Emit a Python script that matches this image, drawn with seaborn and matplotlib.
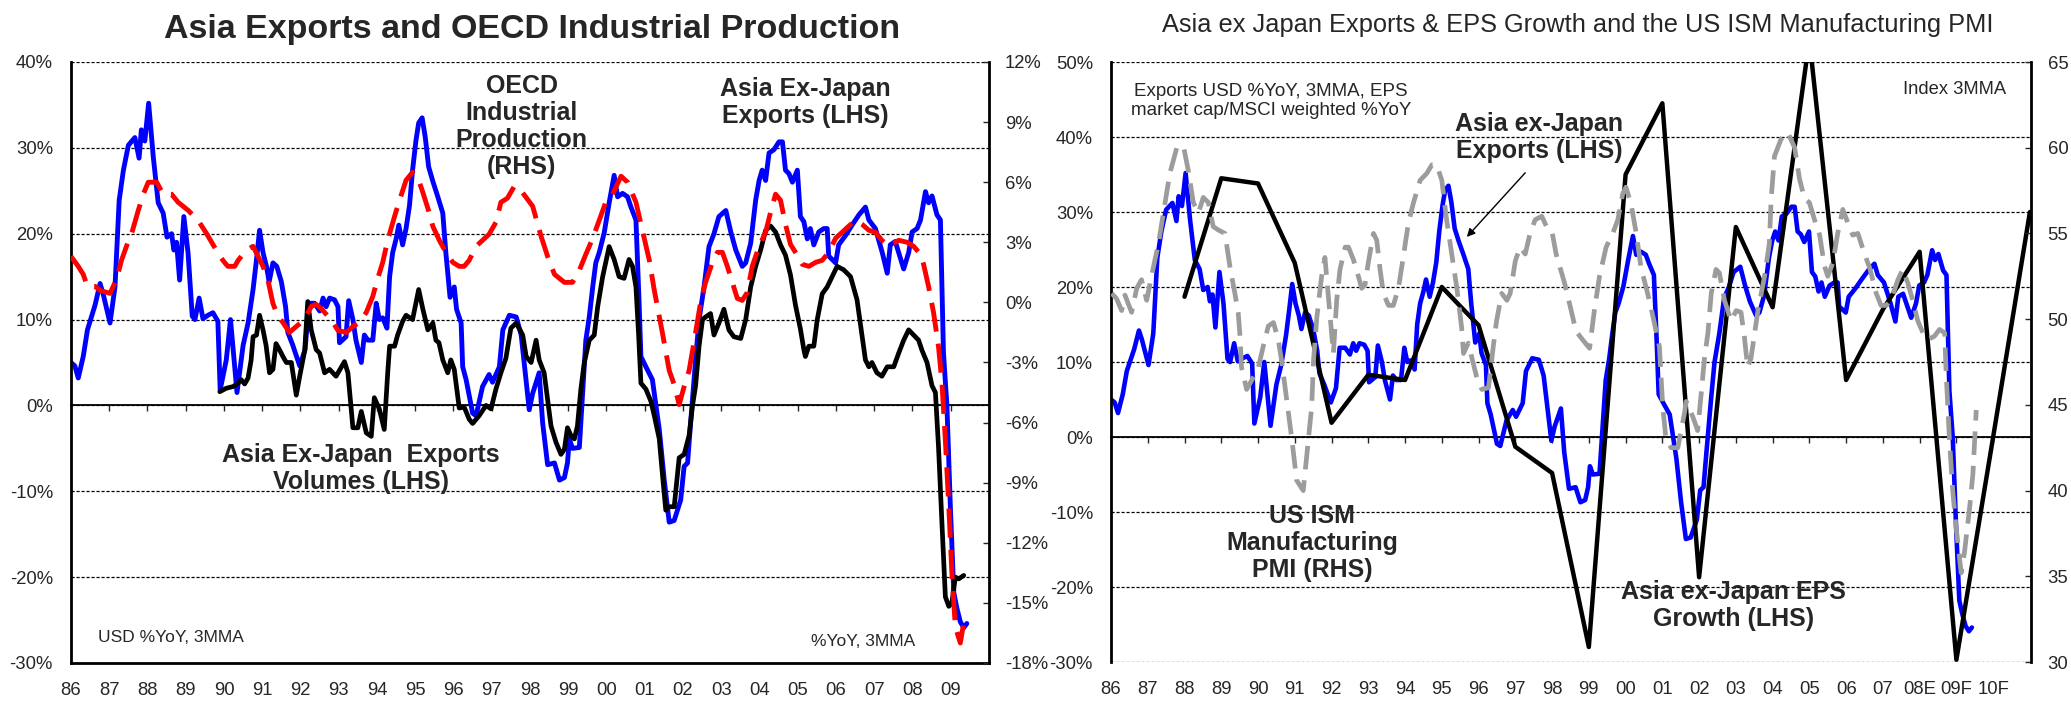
import matplotlib
matplotlib.use("Agg")
import matplotlib.pyplot as plt
import matplotlib.ticker as mticker
import seaborn as sns

# --- data (decimal years, monthly-ish samples) ---

# Asia ex-Japan exports, USD %YoY 3MMA (used on both panels, LHS)
exp_yr = [1986.00, 1986.10, 1986.19, 1986.32, 1986.43, 1986.63, 1986.76, 1986.84, 1987.02, 1987.15,
          1987.26, 1987.37, 1987.50, 1987.67, 1987.78, 1987.84, 1987.93, 1988.03, 1988.15, 1988.28,
          1988.41, 1988.51, 1988.63, 1988.69, 1988.76, 1988.84, 1988.95, 1989.06, 1989.17, 1989.24,
          1989.35, 1989.45, 1989.58, 1989.71, 1989.84, 1989.90, 1990.06, 1990.17, 1990.34, 1990.50,
          1990.63, 1990.76, 1990.85, 1990.93, 1991.02, 1991.11, 1991.18, 1991.28, 1991.38, 1991.50,
          1991.61, 1991.67, 1991.80, 1991.98, 1992.12, 1992.22, 1992.37, 1992.50, 1992.59, 1992.67,
          1992.76, 1992.89, 1992.98, 1993.02, 1993.19, 1993.26, 1993.37, 1993.45, 1993.59, 1993.67,
          1993.76, 1993.89, 1993.98, 1994.06, 1994.15, 1994.26, 1994.33, 1994.41, 1994.50, 1994.57,
          1994.67, 1994.76, 1994.85, 1994.93, 1995.02, 1995.09, 1995.18, 1995.26, 1995.35, 1995.46,
          1995.59, 1995.72, 1995.80, 1995.91, 1996.02, 1996.08, 1996.20, 1996.24, 1996.33, 1996.50,
          1996.59, 1996.76, 1996.93, 1997.02, 1997.20, 1997.29, 1997.46, 1997.64, 1997.77, 1997.98,
          1998.07, 1998.24, 1998.33, 1998.46, 1998.64, 1998.77, 1998.90, 1998.98, 1999.03, 1999.11,
          1999.29, 1999.46, 1999.55, 1999.64, 1999.72, 1999.81, 1999.94, 2000.07, 2000.20, 2000.29,
          2000.42, 2000.55, 2000.64, 2000.77, 2000.85, 2000.90, 2001.03, 2001.20, 2001.38, 2001.51,
          2001.64, 2001.77, 2001.94, 2002.03, 2002.12, 2002.20, 2002.33, 2002.42, 2002.55, 2002.68,
          2002.81, 2002.94, 2003.12, 2003.25, 2003.38, 2003.55, 2003.64, 2003.77, 2003.90, 2003.99,
          2004.07, 2004.16, 2004.25, 2004.38, 2004.51, 2004.60, 2004.68, 2004.77, 2004.86, 2004.99,
          2005.07, 2005.16, 2005.25, 2005.33, 2005.42, 2005.55, 2005.68, 2005.77, 2005.81, 2005.99,
          2006.07, 2006.25, 2006.42, 2006.60, 2006.77, 2006.86, 2007.03, 2007.21, 2007.34, 2007.42,
          2007.55, 2007.64, 2007.77, 2007.90, 2007.99, 2008.12, 2008.21, 2008.34, 2008.42, 2008.51,
          2008.64, 2008.73, 2008.81, 2008.90, 2008.99, 2009.08, 2009.16, 2009.25, 2009.34, 2009.42]
exp_val = [5.0, 4.6, 3.2, 5.7, 8.8, 11.7, 14.2, 13.0, 9.6, 13.8,
           23.9, 27.4, 30.3, 31.2, 28.8, 32.1, 30.8, 35.2, 29.0, 23.6,
           22.4, 19.6, 20.0, 18.1, 19.0, 14.6, 22.0, 17.8, 10.4, 10.0,
           12.5, 10.1, 10.5, 10.8, 9.8, 1.8, 5.3, 10.0, 1.5, 7.0,
           9.6, 13.5, 17.0, 20.4, 17.8, 16.2, 14.4, 16.6, 16.2, 14.4,
           11.5, 8.5, 7.0, 4.6, 6.5, 11.9, 11.9, 11.0, 12.5, 11.5,
           12.5, 12.3, 11.5, 7.3, 8.0, 12.2, 10.0, 7.6, 5.0, 8.2,
           7.6, 7.6, 11.9, 10.0, 10.2, 9.0, 15.0, 17.8, 19.4, 21.0,
           18.7, 20.6, 23.3, 27.4, 30.9, 32.9, 33.5, 31.3, 27.8, 26.1,
           24.3, 22.4, 17.8, 12.6, 13.8, 11.2, 9.6, 4.5, 3.0, -0.9,
           -1.2, 2.2, 3.6, 2.7, 4.5, 8.8, 10.5, 10.3, 8.2, -0.5,
           1.4, 3.8, -2.0, -6.9, -6.7, -8.7, -8.4, -6.7, -3.9, -5.0,
           -4.9, 7.6, 10.3, 13.8, 16.6, 17.8, 20.1, 23.6, 26.8, 24.3,
           24.7, 24.3, 23.1, 21.6, 12.3, 5.7, 4.5, 3.0, -2.8, -8.7,
           -13.6, -13.4, -11.0, -7.1, -6.7, -2.0, 5.3, 10.0, 13.8, 18.5,
           20.0, 22.0, 22.7, 20.2, 18.1, 16.2, 16.6, 18.9, 23.9, 26.2,
           27.4, 26.2, 29.4, 29.8, 30.7, 30.7, 27.4, 27.0, 26.0, 27.4,
           22.0, 21.4, 19.4, 20.6, 18.7, 20.2, 20.6, 20.6, 17.4, 16.6,
           18.7, 19.8, 21.0, 22.2, 23.1, 21.6, 20.6, 17.8, 15.4, 18.7,
           19.1, 17.8, 15.9, 17.8, 20.2, 20.6, 21.6, 24.9, 23.6, 24.4,
           22.2, 21.6, 6.1, 0.0, -11.8, -21.8, -23.6, -25.2, -25.9, -25.4]

# Asia ex-Japan export volumes %YoY (left panel, LHS)
vol_yr = [1989.89, 1990.06, 1990.24, 1990.37, 1990.45, 1990.54, 1990.63, 1990.71, 1990.76, 1990.85,
          1990.93, 1991.02, 1991.10, 1991.19, 1991.28, 1991.36, 1991.45, 1991.54, 1991.63, 1991.76,
          1991.89, 1991.98, 1992.11, 1992.19, 1992.28, 1992.41, 1992.50, 1992.63, 1992.76, 1992.93,
          1993.15, 1993.24, 1993.37, 1993.50, 1993.59, 1993.72, 1993.85, 1993.93, 1994.06, 1994.19,
          1994.28, 1994.33, 1994.46, 1994.54, 1994.67, 1994.76, 1994.93, 1995.09, 1995.20, 1995.33,
          1995.46, 1995.54, 1995.62, 1995.72, 1995.85, 1995.93, 1996.02, 1996.15, 1996.28, 1996.41,
          1996.50, 1996.67, 1996.85, 1996.98, 1997.11, 1997.24, 1997.37, 1997.50, 1997.64, 1997.81,
          1997.90, 1998.03, 1998.16, 1998.24, 1998.37, 1998.46, 1998.55, 1998.68, 1998.81, 1998.90,
          1998.98, 1999.07, 1999.16, 1999.24, 1999.33, 1999.42, 1999.55, 1999.68, 1999.77, 1999.90,
          2000.07, 2000.20, 2000.33, 2000.46, 2000.59, 2000.68, 2000.77, 2000.84, 2000.90, 2001.03,
          2001.16, 2001.25, 2001.38, 2001.46, 2001.55, 2001.64, 2001.77, 2001.90, 2002.03, 2002.16,
          2002.25, 2002.33, 2002.42, 2002.51, 2002.59, 2002.72, 2002.81, 2002.94, 2003.07, 2003.20,
          2003.33, 2003.51, 2003.64, 2003.77, 2003.90, 2004.03, 2004.16, 2004.29, 2004.42, 2004.55,
          2004.68, 2004.81, 2004.94, 2005.07, 2005.16, 2005.20, 2005.29, 2005.42, 2005.51, 2005.64,
          2005.77, 2005.90, 2006.03, 2006.20, 2006.38, 2006.55, 2006.68, 2006.77, 2006.86, 2006.94,
          2007.07, 2007.20, 2007.34, 2007.51, 2007.64, 2007.77, 2007.90, 2008.03, 2008.16, 2008.25,
          2008.38, 2008.51, 2008.60, 2008.68, 2008.77, 2008.86, 2008.95, 2009.03, 2009.12, 2009.21,
          2009.34]
vol_val = [1.6, 2.0, 2.2, 2.6, 3.0, 2.5, 3.2, 5.3, 8.0, 8.2,
           10.5, 8.8, 7.0, 3.8, 4.2, 7.2, 6.5, 5.7, 5.0, 5.0,
           1.2, 3.4, 6.4, 12.1, 8.8, 6.5, 6.1, 3.8, 4.2, 3.4,
           5.1, 3.8, -2.6, -2.6, -0.7, -3.2, -3.6, 0.9, -0.4, -2.8,
           3.8, 6.9, 6.9, 8.2, 9.8, 10.5, 10.0, 13.5, 11.2, 8.8,
           9.6, 7.6, 7.3, 5.3, 3.8, 5.3, 4.2, -0.3, -0.2, -1.6,
           -2.1, -1.2, 0.0, -0.4, 1.9, 3.8, 5.5, 9.0, 9.6, 8.2,
           5.7, 5.0, 7.6, 5.3, 3.8, 0.7, -2.4, -4.3, -5.7, -5.1,
           -2.6, -3.5, -3.9, -2.4, 1.9, 5.0, 7.6, 8.2, 11.5, 15.0,
           18.5, 17.0, 15.0, 14.8, 17.0, 16.2, 13.8, 8.2, 2.6, 1.9,
           0.5, -1.2, -3.9, -7.9, -12.2, -11.8, -11.8, -6.1, -5.7, -3.5,
           0.0, 2.3, 6.9, 10.0, 10.3, 10.7, 8.2, 9.6, 11.2, 8.8,
           8.0, 7.8, 10.0, 13.8, 16.2, 18.1, 20.4, 20.9, 20.2, 18.7,
           17.5, 15.2, 11.7, 8.9, 6.5, 5.7, 6.9, 6.9, 10.0, 13.0,
           13.8, 15.0, 16.2, 15.8, 15.0, 12.3, 8.2, 5.3, 4.5, 5.0,
           3.8, 3.4, 4.5, 4.5, 6.1, 7.6, 8.8, 8.2, 7.6, 6.4,
           5.0, 2.3, 1.5, -4.8, -13.7, -22.3, -23.4, -23.0, -20.0, -20.2,
           -19.8]

# OECD industrial production %YoY 3MMA (left panel, RHS)
oecd_yr = [1986.00, 1986.19, 1986.32, 1986.43, 1986.63, 1986.76, 1987.02, 1987.20, 1987.32, 1987.45,
           1987.61, 1987.76, 1987.89, 1988.02, 1988.24, 1988.41, 1988.63, 1988.80, 1989.06, 1989.32,
           1989.54, 1989.80, 1989.97, 1990.10, 1990.28, 1990.37, 1990.58, 1990.76, 1990.89, 1991.02,
           1991.15, 1991.28, 1991.41, 1991.54, 1991.71, 1991.89, 1992.02, 1992.15, 1992.28, 1992.41,
           1992.54, 1992.72, 1992.85, 1992.98, 1993.20, 1993.37, 1993.54, 1993.72, 1993.89, 1994.02,
           1994.15, 1994.28, 1994.46, 1994.59, 1994.76, 1994.93, 1995.07, 1995.18, 1995.33, 1995.46,
           1995.63, 1995.80, 1995.98, 1996.15, 1996.28, 1996.41, 1996.59, 1996.76, 1996.93, 1997.11,
           1997.24, 1997.41, 1997.59, 1997.72, 1998.07, 1998.29, 1998.46, 1998.64, 1998.90, 1999.11,
           1999.29, 1999.46, 1999.64, 1999.81, 1999.98, 2000.16, 2000.38, 2000.55, 2000.77, 2000.94,
           2001.12, 2001.25, 2001.46, 2001.64, 2001.77, 2001.90, 2002.03, 2002.16, 2002.25, 2002.33,
           2002.46, 2002.59, 2002.77, 2002.90, 2003.03, 2003.16, 2003.29, 2003.42, 2003.55, 2003.68,
           2003.81, 2003.99, 2004.16, 2004.29, 2004.42, 2004.55, 2004.68, 2004.81, 2004.94, 2005.12,
           2005.29, 2005.47, 2005.64, 2005.81, 2005.99, 2006.16, 2006.33, 2006.51, 2006.68, 2006.86,
           2007.03, 2007.20, 2007.38, 2007.64, 2007.86, 2008.03, 2008.21, 2008.29, 2008.42, 2008.55,
           2008.68, 2008.77, 2008.86, 2008.95, 2009.03, 2009.12, 2009.25, 2009.34]
oecd_val = [2.3, 1.8, 1.4, 0.8, 0.8, 0.6, 0.45, 1.2, 2.1, 2.8,
            3.6, 4.6, 5.4, 6.0, 6.0, 5.4, 5.4, 5.0, 4.6, 4.1,
            3.45, 2.6, 2.1, 1.8, 1.8, 2.1, 2.6, 2.8, 2.3, 1.8,
            1.1, -0.05, -0.7, -1.0, -1.5, -1.2, -1.0, -0.7, -0.2, -0.1,
            -0.3, -0.7, -1.0, -1.4, -1.5, -1.2, -1.0, -0.5, 0.3, 1.2,
            2.0, 3.1, 4.3, 5.1, 6.1, 6.5, 6.2, 5.6, 4.7, 3.8,
            3.1, 2.5, 2.0, 1.8, 1.8, 2.1, 2.8, 3.1, 3.4, 4.0,
            5.0, 5.2, 5.8, 5.7, 4.8, 3.3, 2.3, 1.4, 1.0, 1.0,
            1.6, 2.4, 3.2, 4.1, 5.0, 5.4, 6.3, 6.0, 5.0, 3.6,
            2.1, 0.6, -1.5, -3.4, -4.1, -5.1, -4.2, -3.4, -2.4, -1.5,
            0.0, 1.0, 2.0, 2.5, 2.5, 1.8, 1.0, 0.2, 0.1, 0.5,
            1.8, 2.8, 3.5, 4.5, 5.4, 5.1, 3.9, 2.9, 2.5, 1.9,
            1.8, 2.0, 2.1, 2.5, 3.2, 3.5, 3.8, 4.1, 3.9, 3.6,
            3.5, 3.1, 2.8, 3.1, 3.0, 2.8, 2.4, 1.9, 0.8, -0.5,
            -2.2, -4.0, -6.9, -10.2, -13.5, -16.2, -17.0, -16.0]

# Asia ex-Japan EPS growth %YoY (right panel, LHS), annual with forecasts
eps_yr = [1988, 1989, 1990, 1991, 1992, 1993, 1994, 1995, 1996, 1997, 1998, 1999,
          2000, 2001, 2002, 2003, 2004, 2005, 2006, 2007, 2008, 2009, 2010, 2011]
eps_val = [18.7, 34.5, 33.8, 23.2, 1.9, 8.3, 7.6, 20.0, 14.9, -1.3, -4.8, -28.0,
           35.0, 44.5, -18.7, 28.0, 17.3, 53.0, 7.6, 17.0, 24.7, -29.7, 0.0, 30.0]

# US ISM manufacturing PMI, index 3MMA (right panel, RHS)
ism_yr = [1986.02, 1986.15, 1986.29, 1986.38, 1986.56, 1986.70, 1986.83, 1986.97, 1987.15, 1987.29,
          1987.47, 1987.60, 1987.79, 1987.97, 1988.10, 1988.24, 1988.38, 1988.51, 1988.65, 1988.78,
          1988.92, 1989.10, 1989.24, 1989.37, 1989.46, 1989.51, 1989.55, 1989.69, 1989.87, 1990.01,
          1990.14, 1990.28, 1990.42, 1990.55, 1990.64, 1990.78, 1990.92, 1991.05, 1991.23, 1991.37,
          1991.46, 1991.51, 1991.60, 1991.73, 1991.82, 1991.91, 1992.00, 1992.05, 1992.14, 1992.23,
          1992.37, 1992.46, 1992.59, 1992.73, 1992.82, 1992.91, 1993.00, 1993.14, 1993.23, 1993.32,
          1993.41, 1993.55, 1993.68, 1993.82, 1993.95, 1994.09, 1994.23, 1994.41, 1994.59, 1994.73,
          1994.86, 1995.00, 1995.13, 1995.27, 1995.41, 1995.54, 1995.59, 1995.72, 1995.95, 1996.09,
          1996.27, 1996.40, 1996.49, 1996.63, 1996.77, 1996.86, 1997.00, 1997.13, 1997.27, 1997.40,
          1997.54, 1997.72, 1997.85, 1997.99, 1998.11, 1998.34, 1998.52, 1998.65, 1998.83, 1999.02,
          1999.15, 1999.29, 1999.47, 1999.65, 1999.79, 1999.92, 2000.01, 2000.15, 2000.29, 2000.42,
          2000.60, 2000.74, 2000.92, 2001.01, 2001.10, 2001.24, 2001.42, 2001.60, 2001.65, 2001.83,
          2001.96, 2002.05, 2002.15, 2002.24, 2002.33, 2002.46, 2002.55, 2002.69, 2002.87, 2003.01,
          2003.14, 2003.23, 2003.32, 2003.41, 2003.60, 2003.78, 2003.91, 2003.96, 2004.05, 2004.23,
          2004.41, 2004.60, 2004.73, 2004.87, 2005.00, 2005.14, 2005.28, 2005.41, 2005.50, 2005.64,
          2005.77, 2005.91, 2006.05, 2006.18, 2006.32, 2006.50, 2006.64, 2006.82, 2006.95, 2007.09,
          2007.22, 2007.41, 2007.54, 2007.68, 2007.81, 2007.95, 2008.09, 2008.22, 2008.40, 2008.54,
          2008.68, 2008.72, 2008.81, 2008.90, 2008.99, 2009.13, 2009.22, 2009.36, 2009.45, 2009.54]
ism_val = [51.5, 51.2, 50.5, 51.4, 50.4, 51.8, 52.3, 51.1, 53.0, 54.4,
           56.8, 58.5, 60.0, 60.1, 58.7, 56.8, 56.2, 57.1, 56.8, 55.4,
           55.2, 55.0, 53.0, 51.5, 50.4, 49.0, 47.2, 45.9, 46.6, 47.2,
           48.4, 49.6, 49.8, 48.8, 47.6, 45.3, 43.0, 40.6, 40.0, 43.0,
           44.9, 47.6, 50.1, 52.5, 53.6, 51.4, 49.2, 48.0, 51.1, 52.9,
           54.2, 54.2, 53.5, 52.5, 51.8, 52.0, 53.3, 55.0, 54.6, 52.9,
           51.5, 50.8, 50.8, 51.8, 53.6, 55.6, 56.8, 58.1, 58.5, 59.0,
           59.0, 58.1, 55.8, 53.8, 51.8, 49.5, 48.0, 48.6, 46.6, 45.9,
           46.0, 48.4, 49.9, 51.5, 51.1, 51.5, 53.4, 54.2, 53.8, 55.0,
           55.8, 56.0, 55.4, 55.2, 53.8, 52.1, 50.5, 49.3, 48.8, 48.3,
           50.5, 52.5, 54.2, 55.0, 55.8, 57.3, 57.7, 56.7, 55.0, 53.0,
           51.5, 50.2, 48.4, 44.9, 43.0, 42.5, 42.5, 44.5, 45.2, 44.3,
           43.5, 45.5, 47.8, 49.2, 51.5, 52.9, 52.7, 51.1, 49.9, 50.5,
           50.4, 49.0, 47.2, 47.7, 50.5, 52.5, 54.4, 57.0, 59.5, 60.5,
           60.9, 60.0, 58.2, 57.0, 56.8, 55.8, 54.9, 53.1, 52.5, 53.3,
           55.0, 56.4, 55.6, 54.9, 55.0, 53.8, 53.0, 51.5, 50.8, 50.8,
           51.1, 52.3, 52.9, 52.1, 51.1, 49.9, 49.2, 48.8, 49.0, 49.4,
           49.2, 46.9, 43.0, 40.0, 37.9, 35.2, 36.4, 39.0, 41.0, 44.7]

left_years = list(range(1986, 2010))
left_labels = [f"{y % 100:02d}" for y in left_years]
right_years = list(range(1986, 2011))
right_labels = [f"{y % 100:02d}" for y in range(1986, 2008)] + ["08E", "09F", "10F"]

BLUE = "#0000FF"
RED = "#FF0000"
GREY = "#9C9C9C"

sns.set_style("white")
plt.rcParams["font.family"] = ["Liberation Sans", "DejaVu Sans"]
plt.rcParams["axes.edgecolor"] = "black"

fig = plt.figure(figsize=(20.71, 7.01), dpi=100)
ax1 = fig.add_axes([0.03428, 0.05421, 0.44326, 0.85735])
ax2 = fig.add_axes([0.53646, 0.05563, 0.44423, 0.85592])
grid_ls = (0, (2.5, 1.5))


def style_main(ax, lo, hi, step, years, labels, zero_frac):
    ax.set_ylim(lo, hi)
    ax.set_yticks(range(lo, hi + 1, step))
    ax.yaxis.set_major_formatter(mticker.FuncFormatter(lambda v, p: f"{v:.0f}%"))
    ax.tick_params(axis="y", length=0, pad=13, labelsize=13.3)
    ax.set_xticks(years)
    ax.set_xticklabels(labels)
    ax.tick_params(axis="x", length=0, pad=14, labelsize=13.3)
    ax.yaxis.grid(True, linestyle=grid_ls, color="black", linewidth=0.9)
    ax.xaxis.grid(False)
    ax.spines["top"].set_visible(False)
    ax.spines["right"].set_visible(False)
    ax.spines["left"].set_linewidth(2)
    ax.set_xlabel("")
    ax.set_ylabel("")
    # the x axis crosses at zero with small yearly ticks
    sec = ax.secondary_xaxis(zero_frac)
    sec.set_xticks(years)
    sec.set_xticklabels([])
    sec.tick_params(axis="x", direction="out", length=4, width=1)
    for s in sec.spines.values():
        s.set_linewidth(1.3)


# ---------------- left panel ----------------
sns.lineplot(x=exp_yr, y=exp_val, ax=ax1, color=BLUE, linewidth=3.5, estimator=None, sort=False)
sns.lineplot(x=vol_yr, y=vol_val, ax=ax1, color="black", linewidth=3.4, estimator=None, sort=False)
ax1.set_xlim(1986, 2010)
style_main(ax1, -30, 40, 10, left_years, left_labels, 30 / 70)
ax1.spines["bottom"].set_linewidth(2)

tw1 = ax1.twinx()
sns.lineplot(x=oecd_yr, y=oecd_val, ax=tw1, color=RED, linewidth=3.5, estimator=None, sort=False,
             linestyle=(0, (6, 2.5)))
tw1.set_ylim(-18, 12)
tw1.set_yticks(range(-18, 13, 3))
tw1.yaxis.set_major_formatter(mticker.FuncFormatter(lambda v, p: f"{v:.0f}%"))
tw1.tick_params(axis="y", direction="in", length=4, width=1, pad=11.5, labelsize=13.3)
tw1.set_ylabel("")
for side in ["top", "left", "bottom"]:
    tw1.spines[side].set_visible(False)
tw1.spines["right"].set_linewidth(2)
tw1.set_xlim(1986, 2010)

fig.text(0.2569, 0.9586, "Asia Exports and OECD Industrial Production", ha="center", va="center",
         fontsize=24.5, fontweight="bold")
bold = dict(fontsize=18, fontweight="bold", ha="center", va="center", linespacing=1.15)
ax1.text(1997.78, 32.5, "OECD\nIndustrial\nProduction\n(RHS)", **bold)
ax1.text(2005.19, 35.3, "Asia Ex-Japan\nExports (LHS)", **bold)
ax1.text(1993.57, -7.3, "Asia Ex-Japan  Exports\nVolumes (LHS)", **bold)
ax1.text(1986.7, -27.05, "USD %YoY, 3MMA", fontsize=12.5, va="center")
ax1.text(2005.35, -27.5, "%YoY, 3MMA", fontsize=12.5, va="center")

# ---------------- right panel ----------------
sns.lineplot(x=exp_yr, y=exp_val, ax=ax2, color=BLUE, linewidth=3.3, estimator=None, sort=False)
sns.lineplot(x=eps_yr, y=eps_val, ax=ax2, color="black", linewidth=3.2, estimator=None, sort=False)
ax2.set_xlim(1986, 2011.03)
style_main(ax2, -30, 50, 10, right_years, right_labels, 30 / 80)
ax2.spines["bottom"].set_visible(False)

tw2 = ax2.twinx()
sns.lineplot(x=ism_yr, y=ism_val, ax=tw2, color=GREY, linewidth=3.4, estimator=None, sort=False,
             linestyle=(0, (5, 2.3)))
tw2.set_ylim(30, 65)
tw2.set_yticks(range(30, 66, 5))
tw2.tick_params(axis="y", direction="in", length=4, width=1, pad=12, labelsize=13.3)
tw2.set_ylabel("")
for side in ["top", "left", "bottom"]:
    tw2.spines[side].set_visible(False)
tw2.spines["right"].set_linewidth(2)
tw2.set_xlim(1986, 2011.03)

fig.text(0.762, 0.964, "Asia ex Japan Exports & EPS Growth and the US ISM Manufacturing PMI",
         ha="center", va="center", fontsize=18.3)
ax2.text(1990.35, 44.8, "Exports USD %YoY, 3MMA, EPS\nmarket cap/MSCI weighted %YoY",
         fontsize=13.5, ha="center", va="center", linespacing=1.1)
ax2.text(2007.55, 46.3, "Index 3MMA", fontsize=13.2, va="center")
ax2.text(1997.65, 39.9, "Asia ex-Japan\nExports (LHS)", **bold)
ax2.annotate("", xy=(1995.63, 26.4), xytext=(1997.32, 35.5),
             arrowprops=dict(arrowstyle="-|>", color="black", lw=1, mutation_scale=12))
ax2.text(1991.47, -14.1, "US ISM\nManufacturing\nPMI (RHS)", **bold)
ax2.text(2002.93, -22.5, "Asia ex-Japan EPS\nGrowth (LHS)", **bold)

fig.savefig("out.png", dpi=100)
